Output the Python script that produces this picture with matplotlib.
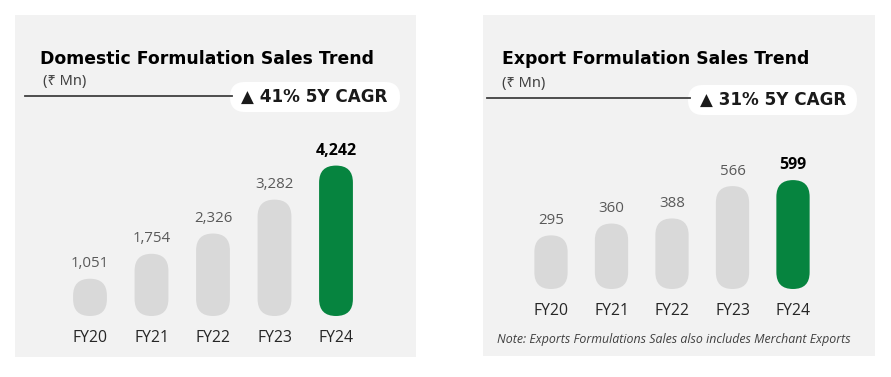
import matplotlib
matplotlib.use("Agg")
import matplotlib.pyplot as plt
from matplotlib.patches import FancyBboxPatch
from matplotlib.lines import Line2D

plt.rcParams['font.family'] = ['Open Sans', 'DejaVu Sans']

years = ["FY20", "FY21", "FY22", "FY23", "FY24"]
domestic = [1051, 1754, 2326, 3282, 4242]
export = [295, 360, 388, 566, 599]
domestic_labels = ["1,051", "1,754", "2,326", "3,282", "4,242"]
export_labels = ["295", "360", "388", "566", "599"]

W, H = 891, 377
fig = plt.figure(figsize=(W / 100, H / 100), dpi=100)
fig.patch.set_facecolor("white")

GREY_BG = "#f2f2f2"
BAR = "#d9d9d9"
GREEN = "#06843f"
VAL = "#595959"
TXT = "#262626"
BOLDFAM = ['DejaVu Sans']


def fx(px):
    return px / W


def fy(py):
    return 1 - py / H


def make_axes(x0, y0, x1, y1):
    ax = fig.add_axes([fx(x0), fy(y1), (x1 - x0) / W, (y1 - y0) / H])
    ax.set_facecolor(GREY_BG)
    for s in ax.spines.values():
        s.set_visible(False)
    ax.set_xticks([])
    ax.set_yticks([])
    return ax


def draw_panel(ax, vals, labels, x0px, zero_px, pxunit, valperpx, box):
    bx0, by0, bx1, by1 = box
    w_px = bx1 - bx0
    h_px = by1 - by0
    xlim = ((bx0 - x0px) / pxunit, (bx1 - x0px) / pxunit)
    ylim = (-(by1 - zero_px) * valperpx, (zero_px - by0) * valperpx)
    ax.set_xlim(*xlim)
    ax.set_ylim(*ylim)
    xperpx = (xlim[1] - xlim[0]) / w_px
    yperpx = (ylim[1] - ylim[0]) / h_px
    aspect = yperpx / xperpx
    width = 0.55
    n = len(vals)
    for i, (v, lab, yr) in enumerate(zip(vals, labels, years)):
        last = i == n - 1
        p = FancyBboxPatch((i - width / 2, 0), width, v,
                           boxstyle=f"round,pad=0,rounding_size={width / 2}",
                           mutation_aspect=aspect,
                           fc=GREEN if last else BAR, ec="none")
        ax.add_patch(p)
        ax.annotate(lab, (i, v), xytext=(0, 15 * 0.72), textcoords="offset points",
                    ha="center", va="center", fontsize=11.5 if last else 10.8,
                    color="black" if last else VAL,
                    fontweight="bold" if last else "normal")
        ax.annotate(yr, (i, 0), xytext=(0, -22 * 0.72), textcoords="offset points",
                    ha="center", va="center", fontsize=11.3, color=TXT)


# Left panel
axL = make_axes(15, 15, 416, 357)
draw_panel(axL, domestic, domestic_labels, 90, 316, 61.5, 28.2, (15, 15, 416, 357))

# Right panel
axR = make_axes(483, 15, 875, 356)
draw_panel(axR, export, export_labels, 551, 289, 60.5, 5.5, (483, 15, 875, 356))


def header(tx, ty, title, sx, sy, lx0, lx1, ly, bx0, bx1, by0, by1, badge_text, btx):
    fig.text(fx(tx), fy(ty), title, ha="left", va="center", fontsize=12.4,
             fontweight="bold", color="black", family=BOLDFAM)
    fig.text(fx(sx), fy(sy), "(₹ Mn)", ha="left", va="center", fontsize=10.5,
             color="#404040", family=['Noto Sans', 'DejaVu Sans'])
    fig.add_artist(Line2D([fx(lx0), fx(lx1)], [fy(ly), fy(ly)], color="#404040", lw=1.3,
                          transform=fig.transFigure))
    asp = (1 / H) / (1 / W)
    r = (by1 - by0) / 2
    badge = FancyBboxPatch((fx(bx0), fy(by1)), (bx1 - bx0) / W, (by1 - by0) / H,
                           boxstyle=f"round,pad=0,rounding_size={r / W}",
                           mutation_aspect=asp, fc="white", ec="none",
                           transform=fig.transFigure)
    fig.add_artist(badge)
    fig.text(fx(btx), fy((by0 + by1) / 2), badge_text, ha="left", va="center",
             fontsize=12.1, fontweight="bold", color="#1a1a1a", family=BOLDFAM)


header(40, 59, "Domestic Formulation Sales Trend", 43, 82, 25, 232, 96,
       230, 400, 82, 112, "▲ 41% 5Y CAGR", 241)
header(502, 59, "Export Formulation Sales Trend", 502, 83, 487, 690, 98,
       688, 857, 85, 115, "▲ 31% 5Y CAGR", 700)

fig.text(fx(497), fy(340), "Note: Exports Formulations Sales also includes Merchant Exports",
         ha="left", va="center", fontsize=8.9, style="italic", color="#404040")

fig.savefig("out.png", dpi=100, facecolor="white")
